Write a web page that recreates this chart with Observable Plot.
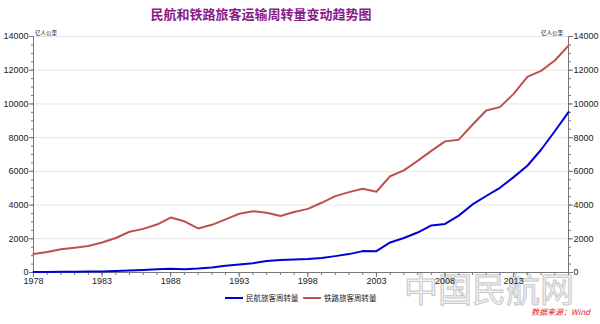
<!DOCTYPE html>
<html>
<head>
<meta charset="utf-8">
<script src="https://cdn.jsdelivr.net/npm/d3@7"></script>
<script src="https://cdn.jsdelivr.net/npm/@observablehq/plot@0.6"></script>
<style>
  body { margin: 0; background: #fff; font-family: "Liberation Sans", "Noto Sans CJK SC", sans-serif; }
  #wrap { position: relative; width: 600px; height: 324px; overflow: hidden; }
  #chart { position: absolute; left: 0; top: 0; }
  .abs { position: absolute; white-space: nowrap; }
  #title { left: 261px; top: 4px; transform: translateX(-50%); font-family: "Noto Sans CJK SC", sans-serif; font-weight: bold; font-size: 13px; color: #8b1a89; }
  .unit { font-family: "Noto Sans CJK SC", sans-serif; font-size: 5.5px; color: #222; top: 29px; }
  .leg { font-family: "Noto Sans CJK SC", sans-serif; font-size: 7.5px; color: #222; top: 292px; display: flex; align-items: center; }
  .leg span.sw { display: inline-block; width: 18px; height: 2px; margin-right: 3px; }
  #src { left: 531px; top: 308px; line-height: 1; font-family: "Noto Sans CJK SC", sans-serif; font-size: 8px; font-style: italic; color: #e0201c; }
  #wm { left: 404px; top: 271px; line-height: 1; font-family: "Noto Sans CJK SC", sans-serif; font-size: 34px; color: #f2f2f2; -webkit-text-stroke: 1px #c9c9c9; }
</style>
</head>
<body>
<div id="wrap">
  <div id="wm" class="abs">中国民航网</div>
  <div id="chart"></div>
  <div id="title" class="abs">民航和铁路旅客运输周转量变动趋势图</div>
  <div class="abs unit" style="left:35px;">亿人公里</div>
  <div class="abs unit" style="left:541px;">亿人公里</div>
  <div class="abs leg" style="left:225px;"><span class="sw" style="background:#0000d8"></span>民航旅客周转量</div>
  <div class="abs leg" style="left:303px;"><span class="sw" style="background:#c0504d"></span>铁路旅客周转量</div>
  <div id="src" class="abs">数据来源：Wind</div>
</div>
<script>
const years = [1978,1979,1980,1981,1982,1983,1984,1985,1986,1987,1988,1989,1990,1991,1992,1993,1994,1995,1996,1997,1998,1999,2000,2001,2002,2003,2004,2005,2006,2007,2008,2009,2010,2011,2012,2013,2014,2015,2016,2017];
const aviation = [28,35,40,50,60,59,83,117,146,189,216,187,231,301,406,478,552,681,748,774,800,857,971,1091,1269,1263,1782,2045,2371,2792,2883,3375,4039,4537,5026,5657,6334,7283,8378,9513];
const railway = [1093,1219,1383,1473,1575,1777,2047,2416,2587,2844,3260,3037,2613,2828,3152,3483,3636,3546,3347,3585,3773,4136,4533,4767,4969,4789,5712,6062,6622,7216,7779,7879,8762,9612,9812,10596,11604,11961,12579,13457];
const seriesNames = ["民航旅客周转量", "铁路旅客周转量"];
const xTicks = [1978,1983,1988,1993,1998,2003,2008,2013];
const yTicks = [0,2000,4000,6000,8000,10000,12000,14000];
const yMinor = d3.range(0, 14001, 500);

const data = [];
years.forEach((y, i) => {
  data.push({year: y, value: aviation[i], series: seriesNames[0]});
  data.push({year: y, value: railway[i], series: seriesNames[1]});
});

const axisStyle = {stroke: "#777", fill: "#222", fontSize: 9, label: null};

const chart = Plot.plot({
  width: 600,
  height: 324,
  marginTop: 36,
  marginBottom: 52,
  marginLeft: 33,
  marginRight: 32,
  style: {fontFamily: "Liberation Sans, sans-serif", background: "transparent", overflow: "visible"},
  x: {domain: [1978, 2017], label: null},
  y: {domain: [0, 14000], label: null},
  color: {domain: seriesNames, range: ["#0000d8", "#c0504d"]},
  marks: [
    Plot.ruleY(yTicks.filter(d => d > 0), {stroke: "#e6e6e6", strokeWidth: 1}),
    Plot.ruleX([1978, 2017], {stroke: "#777"}),
    Plot.ruleY([0], {stroke: "#777"}),
    Plot.axisY({...axisStyle, anchor: "left", ticks: yMinor, tickSize: 2, tickFormat: () => ""}),
    Plot.axisY({...axisStyle, anchor: "left", ticks: yTicks, tickSize: 4, tickPadding: 1, tickFormat: d => String(d)}),
    Plot.axisY({...axisStyle, anchor: "right", ticks: yMinor, tickSize: 2, tickFormat: () => ""}),
    Plot.axisY({...axisStyle, anchor: "right", ticks: yTicks, tickSize: 4, tickPadding: 1, tickFormat: d => String(d)}),
    Plot.axisX({...axisStyle, anchor: "bottom", ticks: years, tickSize: 3, tickFormat: () => ""}),
    Plot.axisX({...axisStyle, anchor: "bottom", ticks: xTicks, tickSize: 5, tickPadding: 0, tickFormat: d => String(d)}),
    Plot.line(data, {x: "year", y: "value", z: "series", stroke: "series", strokeWidth: 2})
  ]
});
document.getElementById("chart").appendChild(chart);
</script>
</body>
</html>
